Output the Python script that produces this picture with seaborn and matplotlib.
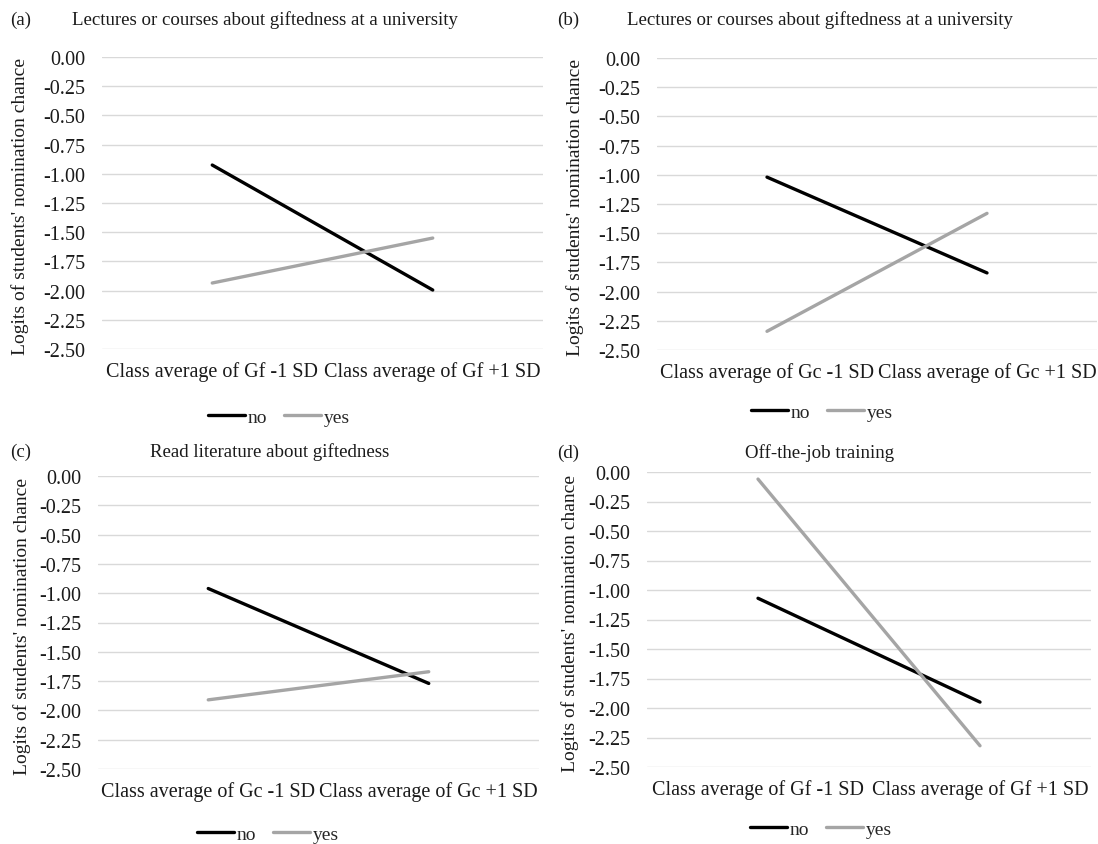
import matplotlib
matplotlib.use("Agg")
import matplotlib.pyplot as plt
import seaborn as sns
import pandas as pd

# ---- data ----
cats_gf = ["Class average of Gf -1 SD", "Class average of Gf +1 SD"]
cats_gc = ["Class average of Gc -1 SD", "Class average of Gc +1 SD"]
groups = ["no", "yes"]

a_no = [-0.925, -1.995]
a_yes = [-1.935, -1.55]
b_no = [-1.02, -1.84]
b_yes = [-2.34, -1.33]
c_no = [-0.96, -1.77]
c_yes = [-1.91, -1.67]
d_no = [-1.07, -1.95]
d_yes = [-0.06, -2.32]

yticks = [0.0, -0.25, -0.5, -0.75, -1.0, -1.25, -1.5, -1.75, -2.0, -2.25, -2.5]
ylabel = "Logits of students' nomination chance"

panels = [
    ("(a)", "Lectures or courses about giftedness at a university", cats_gf, a_no, a_yes),
    ("(b)", "Lectures or courses about giftedness at a university", cats_gc, b_no, b_yes),
    ("(c)", "Read literature about giftedness", cats_gc, c_no, c_yes),
    ("(d)", "Off-the-job training", cats_gf, d_no, d_yes),
]

# ---- layout (pixels, origin top-left) ----
W, H = 1098, 845
axes_px = [  # left, right, top, bottom
    (102, 543, 58, 350),
    (657, 1097, 59, 351),
    (98, 539, 477, 770),
    (647, 1091, 473, 768),
]
tag_px = [(10, 20), (557, 20), (10, 452), (557, 453)]
title_px = [(72, 20), (627, 20), (150, 452), (745, 453)]
ylabel_right_px = [29, 584, 31, 579]
legend_px = [(279, 418), (822, 413), (268, 835), (821, 830)]

sns.set_theme(style="white")
plt.rcParams["font.family"] = ["Liberation Serif", "DejaVu Serif"]
FS = 14.5
TFS = 13.6

fig = plt.figure(figsize=(W / 100, H / 100), dpi=100)
palette = {"no": "black", "yes": "#A5A5A5"}

for i, (tag, title, cats, no_v, yes_v) in enumerate(panels):
    l, r, t, b = axes_px[i]
    ax = fig.add_axes([l / W, 1 - b / H, (r - l) / W, (b - t) / H])
    df = pd.DataFrame({
        "cat": cats + cats,
        "val": no_v + yes_v,
        "group": [groups[0]] * 2 + [groups[1]] * 2,
    })
    sns.lineplot(data=df, x="cat", y="val", hue="group", palette=palette,
                 hue_order=groups, sort=False, lw=2.4, ax=ax)
    ax.set_xlim(-0.5, 1.5)
    ax.set_ylim(-2.5, 0.0)
    ax.set_yticks(yticks)
    ax.set_yticklabels([f"{v:.2f}" for v in yticks])
    ax.grid(axis="y", color="#D9D9D9", lw=1.0)
    ax.grid(axis="x", visible=False)
    for s in ax.spines.values():
        s.set_visible(False)
    ax.tick_params(axis="y", length=0, pad=12, labelsize=FS, colors="#1a1a1a")
    ax.tick_params(axis="x", length=0, pad=9, labelsize=FS, colors="#1a1a1a")
    ax.set_xlabel("")
    ax.set_ylabel(ylabel, fontsize=14, color="#1a1a1a")
    ax.yaxis.set_label_coords((ylabel_right_px[i] - l) / (r - l), 0.49)
    for line in ax.get_lines():
        line.set_solid_capstyle("round")

    handles, labels = ax.get_legend_handles_labels()
    lx, ly = legend_px[i]
    ax.legend(handles, labels, loc="center", bbox_to_anchor=(lx / W, 1 - ly / H),
              bbox_transform=fig.transFigure, ncol=2, frameon=False,
              fontsize=14, handlelength=1.9, handletextpad=0.15,
              columnspacing=0.9, borderaxespad=0)

    tx, ty = tag_px[i]
    fig.text(tx / W, 1 - ty / H, tag, fontsize=TFS, va="center", ha="left", color="#1a1a1a")
    hx, hy = title_px[i]
    fig.text(hx / W, 1 - hy / H, title, fontsize=TFS, va="center", ha="left", color="#1a1a1a")

fig.savefig("out.png", dpi=100, facecolor="white")
